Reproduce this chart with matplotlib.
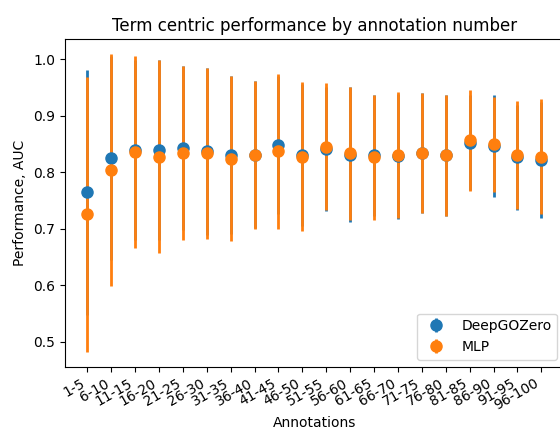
import numpy as np
import matplotlib
matplotlib.use('Agg')
import matplotlib.pyplot as plt

# Annotation bins
labels = ['1-5', '6-10', '11-15', '16-20', '21-25', '26-30', '31-35', '36-40',
          '41-45', '46-50', '51-55', '56-60', '61-65', '66-70', '71-75', '76-80',
          '81-85', '86-90', '91-95', '96-100']

# DeepGOZero mean AUC and std
dgz_mean = [0.764, 0.825, 0.839, 0.839, 0.843, 0.837, 0.830, 0.831, 0.848, 0.830,
            0.841, 0.831, 0.830, 0.828, 0.834, 0.830, 0.852, 0.846, 0.826, 0.821]
dgz_std = [0.217, 0.181, 0.160, 0.160, 0.145, 0.148, 0.140, 0.130, 0.122, 0.125,
           0.110, 0.119, 0.107, 0.111, 0.106, 0.107, 0.084, 0.090, 0.093, 0.103]

# MLP mean AUC and std
mlp_mean = [0.725, 0.804, 0.835, 0.827, 0.833, 0.833, 0.824, 0.831, 0.837, 0.827,
            0.845, 0.833, 0.826, 0.830, 0.834, 0.830, 0.856, 0.849, 0.830, 0.827]
mlp_std = [0.243, 0.205, 0.170, 0.171, 0.154, 0.152, 0.146, 0.131, 0.137, 0.132,
           0.112, 0.118, 0.110, 0.111, 0.106, 0.107, 0.090, 0.084, 0.096, 0.102]

fig = plt.figure(figsize=(5.6, 4.3), dpi=100)
ax = fig.add_axes([0.1155, 0.1472, 0.8916, 0.762])

x = np.arange(len(labels))
ax.errorbar(x, dgz_mean, yerr=dgz_std, fmt='o', color='C0', elinewidth=2,
            markersize=8, label='DeepGOZero')
ax.errorbar(x, mlp_mean, yerr=mlp_std, fmt='o', color='C1', elinewidth=2,
            markersize=8, label='MLP')

ax.set_xticks(x)
ax.set_xticklabels(labels, rotation=30, ha='right')
ax.set_xlabel('Annotations', labelpad=2)
ax.set_ylabel('Performance, AUC')
ax.set_title('Term centric performance by annotation number')
ax.legend(loc='lower right')

plt.savefig('out.png', dpi=100)
